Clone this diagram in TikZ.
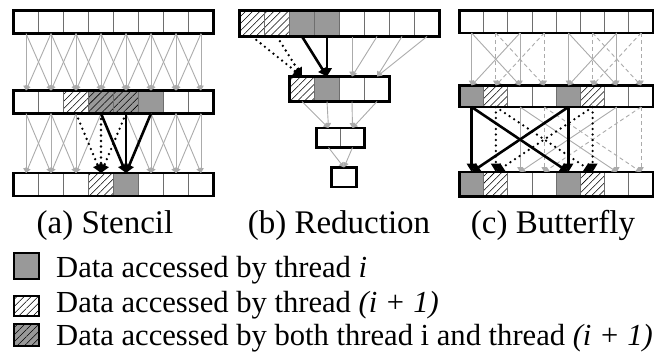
\documentclass[tikz,border=0pt]{standalone}
\usepackage{fontspec}
\setmainfont{Liberation Serif}
\usetikzlibrary{arrows.meta,patterns.meta}
\definecolor{cellgray}{HTML}{999999}
\definecolor{linegray}{HTML}{ABABAB}
\definecolor{divgray}{HTML}{6E6E6E}
\tikzset{
  cell/.style={draw=divgray, line width=0.9pt, inner sep=0pt, outer sep=0pt, anchor=north west},
  wc/.style={fill=white},
  gc/.style={fill=cellgray},
  hc/.style={preaction={fill=white}, pattern={Lines[angle=45,distance=5pt,line width=0.55pt]}},
  dc/.style={preaction={fill=cellgray}, pattern={Lines[angle=45,distance=5pt,line width=0.55pt]}},
  rowframe/.style={draw=black, line width=2.6pt},
  garrow/.style={draw=linegray, line width=0.9pt, -{Triangle[width=5.5pt,length=5pt]}},
  gdarrow/.style={garrow, dash pattern=on 4pt off 3pt},
  barrow/.style={draw=black, line width=2.6pt, -{Triangle[width=9.5pt,length=8.5pt]}},
  dotarrow/.style={barrow, line cap=round, dash pattern=on 0pt off 5.5pt},
  lab/.style={font=\fontsize{33}{40}\selectfont, inner sep=0pt, anchor=base},
  legtxt/.style={font=\fontsize{30.6}{36}\selectfont, inner sep=0pt, anchor=base west},
  legsq/.style={draw=black, line width=2.4pt, inner sep=0pt, minimum width=24.5pt}
}
\newcommand\cellrow[6]{%
  \foreach \s [count=\k from 0] in {#6} {
    \node[cell,\s,minimum width=#4pt,minimum height=#5pt] (#1\k) at ({#2+\k*#4},#3) {};
    \xdef\lastcell{\k}
  }
  \draw[rowframe] (#10.north west) rectangle (#1\lastcell.south east);
}
\begin{document}
\begin{tikzpicture}[x=1pt,y=-1pt]
\useasboundingbox (0,0) rectangle (656,356);
% ---------- (a) Stencil ----------
\cellrow{sa}{13.5}{10.5}{25}{23}{wc,wc,wc,wc,wc,wc,wc,wc}
\cellrow{sb}{13.5}{90.5}{25}{23}{wc,wc,hc,dc,dc,gc,wc,wc}
\cellrow{sc}{13.5}{173}{25}{23}{wc,wc,wc,hc,gc,wc,wc,wc}
\foreach \i in {0,...,7} {
  \foreach \j in {-1,0,1} {
    \pgfmathtruncatemacro\t{\i+\j}
    \ifnum\t>-1 \ifnum\t<8
      \draw[garrow] (sa\i.south) -- (sb\t.north);
      \ifnum\t=3 \else \ifnum\t=4 \else
        \draw[garrow] (sb\i.south) -- (sc\t.north);
      \fi\fi
    \fi\fi
  }
}
\foreach \i in {2,3,4} \draw[dotarrow] (sb\i.south) -- (sc3.north);
\foreach \i in {3,4,5} \draw[barrow] (sb\i.south) -- (sc4.north);
% ---------- (b) Reduction ----------
\cellrow{ra}{239.5}{10.5}{25}{26}{hc,hc,gc,gc,wc,wc,wc,wc}
\cellrow{rb}{289.5}{76.5}{25}{25}{hc,gc,wc,wc}
\cellrow{rc}{316.5}{128}{24}{19.5}{wc,wc}
\cellrow{rd}{331.5}{167.5}{25}{19.5}{wc}
\foreach \i in {4,...,7} {
  \pgfmathtruncatemacro\t{floor(\i/2)}
  \draw[garrow] (ra\i.south) -- (rb\t.north);
}
\foreach \i in {0,...,3} {
  \pgfmathtruncatemacro\t{floor(\i/2)}
  \draw[garrow] (rb\i.south) -- (rc\t.north);
}
\draw[garrow] (rc0.south) -- (rd0.north);
\draw[garrow] (rc1.south) -- (rd0.north);
\foreach \i in {0,1} \draw[dotarrow] (ra\i.south) -- (rb0.north);
\foreach \i in {2,3} \draw[barrow] (ra\i.south) -- (rb1.north);
% ---------- (c) Butterfly ----------
\cellrow{ba}{459.5}{10.5}{24.2}{22.5}{wc,wc,wc,wc,wc,wc,wc,wc}
\cellrow{bb}{459.5}{85.5}{24.2}{21.5}{gc,hc,wc,wc,gc,hc,wc,wc}
\cellrow{bc}{459.5}{172}{24.2}{24.5}{gc,hc,wc,wc,gc,hc,wc,wc}
\foreach \i in {0,...,7} {
  \pgfmathtruncatemacro\p{mod(\i,4)<2 ? \i+2 : \i-2}
  \ifodd\i
    \draw[gdarrow] (ba\i.south) -- (bb\i.north);
    \draw[gdarrow] (ba\i.south) -- (bb\p.north);
  \else
    \draw[garrow] (ba\i.south) -- (bb\i.north);
    \draw[garrow] (ba\i.south) -- (bb\p.north);
  \fi
}
\foreach \i in {2,3,6,7} {
  \pgfmathtruncatemacro\p{\i<4 ? \i+4 : \i-4}
  \ifodd\i
    \draw[gdarrow] (bb\i.south) -- (bc\i.north);
    \draw[gdarrow] (bb\i.south) -- (bc\p.north);
  \else
    \draw[garrow] (bb\i.south) -- (bc\i.north);
    \draw[garrow] (bb\i.south) -- (bc\p.north);
  \fi
}
\foreach \i in {1,5} {
  \pgfmathtruncatemacro\p{\i<4 ? \i+4 : \i-4}
  \draw[dotarrow] (bb\i.south) -- (bc\i.north);
  \draw[dotarrow] (bb\i.south) -- (bc\p.north);
}
\foreach \i in {0,4} {
  \pgfmathtruncatemacro\p{\i<4 ? \i+4 : \i-4}
  \draw[barrow] (bb\i.south) -- (bc\i.north);
  \draw[barrow] (bb\i.south) -- (bc\p.north);
}
% ---------- labels ----------
\node[lab] (la) at (105,233) {(a) Stencil};
\node[lab] (lb) at (339,233) {(b) Reduction};
\node[lab] (lc) at (553,233) {(c) Butterfly};
% ---------- legend ----------
\node[legsq, gc, minimum height=25.5pt] (q1) at (26.5,266) {};
\node[legsq, hc, minimum height=20pt] (q2) at (26.5,306) {};
\node[legsq, dc, minimum height=22pt] (q3) at (26.5,335) {};
\node[legtxt] (t1) at (56,277) {Data accessed by thread \textit{i}};
\node[legtxt] (t2) at (56,312) {Data accessed by thread \textit{(i + 1)}};
\node[legtxt] (t3) at (56,345) {Data accessed by both thread i and thread \textit{(i + 1)}};
\end{tikzpicture}
\end{document}
